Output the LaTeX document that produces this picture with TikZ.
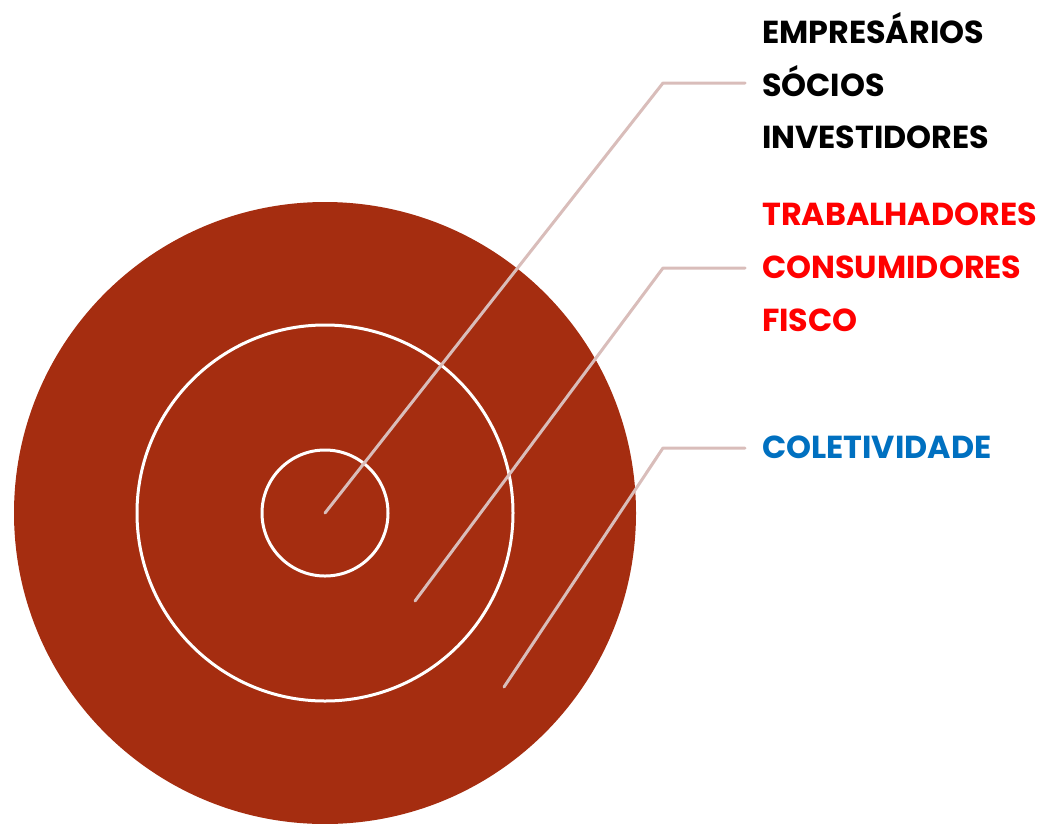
\documentclass[tikz,border=0pt]{standalone}
\usepackage{fontspec}
\setmainfont{Poppins}[BoldFont={Poppins Bold}]
\definecolor{ringfill}{RGB}{165,45,16}
\definecolor{leader}{RGB}{217,189,186}
\definecolor{grpblack}{RGB}{0,0,0}
\definecolor{grpred}{RGB}{255,0,0}
\definecolor{grpblue}{RGB}{0,112,192}
\begin{document}
\begin{tikzpicture}[x=1pt,y=-1pt,
  ring/.style={draw=white,line width=3pt},
  leaderline/.style={draw=leader,line width=3pt,line cap=round,line join=round},
  lbl/.style={anchor=base west,inner sep=0pt,font=\fontsize{31.8}{31.8}\selectfont\bfseries}]
\useasboundingbox (0,0) rectangle (1046,823);
% concentric circles
\fill[ringfill] (325,513) circle (311);
\draw[ring] (325,513) circle (188);
\draw[ring] (325,513) circle (63);
% labels
\node[lbl,text=grpblack] (e1) at (762,43) {EMPRESÁRIOS};
\node[lbl,text=grpblack] (e2) at (762,96) {SÓCIOS};
\node[lbl,text=grpblack] (e3) at (762,148) {INVESTIDORES};
\node[lbl,text=grpred] (t1) at (762,225) {TRABALHADORES};
\node[lbl,text=grpred] (t2) at (762,278) {CONSUMIDORES};
\node[lbl,text=grpred] (t3) at (762,331) {FISCO};
\node[lbl,text=grpblue] (c1) at (762,458) {COLETIVIDADE};
% leader lines
\coordinate (p1) at (325,513);
\coordinate (p2) at (415,601);
\coordinate (p3) at (504,687);
\draw[leaderline] (p1) -- (663,83) -- (745,83);
\draw[leaderline] (p2) -- (663,268) -- (745,268);
\draw[leaderline] (p3) -- (663,448) -- (745,448);
\end{tikzpicture}
\end{document}
